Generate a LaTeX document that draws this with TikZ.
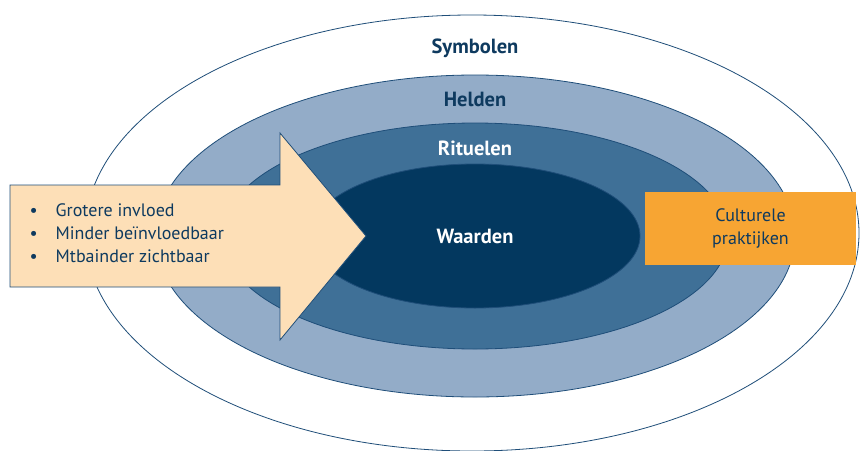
\documentclass[tikz,border=0pt]{standalone}
\usepackage{fontspec}
\setmainfont{PT Sans}
\definecolor{navy}{HTML}{0E3A5F}
\definecolor{lineblue}{HTML}{1F4E79}
\definecolor{lightblue}{HTML}{93ACC8}
\definecolor{midblue}{HTML}{3F7097}
\definecolor{darkblue}{HTML}{03385F}
\definecolor{peach}{HTML}{FDDFB7}
\definecolor{orange}{HTML}{F7A533}
\begin{document}
\begin{tikzpicture}[x=1pt,y=-1pt,
  ring/.style={draw=lineblue,line width=0.8pt},
  layerlabel/.style={font=\bfseries\fontsize{20.5}{22}\selectfont,text=navy},
  bodytext/.style={font=\fontsize{18}{23}\selectfont,text=navy}]
\useasboundingbox (0,0) rectangle (861,450);
\clip (0,0) rectangle (861,450);
\fill[white] (0,0) rectangle (861,450);
\draw[ring,fill=white] (472,233) ellipse [x radius=387, y radius=218];
\draw[ring,fill=lightblue] (475,236) ellipse [x radius=320, y radius=161];
\draw[ring,fill=midblue] (475,236) ellipse [x radius=253, y radius=113];
\draw[ring,fill=darkblue] (475,236) ellipse [x radius=165, y radius=72];
\node[layerlabel] (symbolen) at (475,48) {Symbolen};
\node[layerlabel] (helden) at (475,99) {Helden};
\node[layerlabel,text=white] (rituelen) at (475,148) {Rituelen};
\node[layerlabel,text=white] (waarden) at (475,236) {Waarden};
\draw[draw=lineblue,line width=0.8pt,fill=peach]
  (10,185) -- (280,185) -- (280,133) -- (366,236) -- (280,340) -- (280,287) -- (10,287) -- cycle;
\node[bodytext,anchor=west,align=left] (bullets) at (26,233)
  {\textbullet\hspace{18pt}Grotere invloed\\
   \textbullet\hspace{18pt}Minder beïnvloedbaar\\
   \textbullet\hspace{18pt}Mtbainder zichtbaar};
\fill[orange] (645,192) rectangle (856,265);
\node[bodytext,align=center] (praktijken) at (750.5,228.5) {Culturele\\praktijken};
\end{tikzpicture}
\end{document}
